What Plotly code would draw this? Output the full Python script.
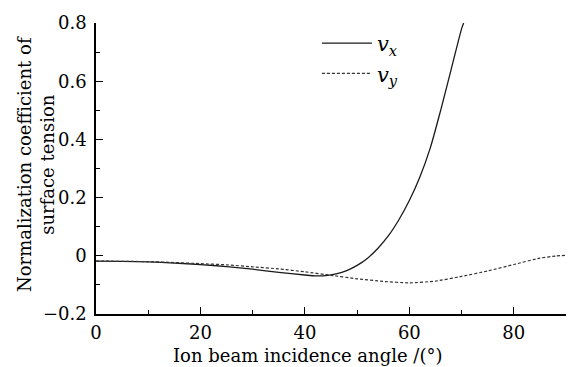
import plotly.graph_objects as go

# incidence angle (deg) and normalized coefficients
angle_vx = [0, 5, 10, 15, 20, 25, 30, 35, 40, 42, 44, 46, 48, 50, 52, 54, 56, 58, 60, 62, 64, 66, 68, 70, 70.4]
vx = [-0.018, -0.019, -0.021, -0.025, -0.030, -0.037, -0.046, -0.057, -0.066, -0.069, -0.068, -0.062,
      -0.051, -0.033, -0.008, 0.026, 0.069, 0.124, 0.190, 0.270, 0.370, 0.500, 0.640, 0.780, 0.800]

angle_vy = [0, 5, 10, 15, 20, 25, 30, 35, 40, 45, 50, 55, 60, 65, 70, 75, 80, 85, 88, 90]
vy = [-0.018, -0.019, -0.020, -0.023, -0.027, -0.031, -0.038, -0.045, -0.055, -0.067, -0.079,
      -0.088, -0.093, -0.087, -0.071, -0.052, -0.030, -0.008, -0.001, 0.002]

x_tickvals = [0, 20, 40, 60, 80]
x_ticktext = ["0", "20", "40", "60", "80"]
x_minor = [10, 30, 50, 70, 90]
y_tickvals = [-0.2, 0, 0.2, 0.4, 0.6, 0.8]
y_ticktext = ["\u22120.2", "0", "0.2", "0.4", "0.6", "0.8"]
y_minor = [-0.1, 0.1, 0.3, 0.5, 0.7]

x_title = "Ion beam incidence angle /(°)"
y_title = "Normalization coefficient of<br>surface tension"

FONT = "DejaVu Serif"

fig = go.Figure()
fig.add_trace(go.Scatter(x=angle_vx, y=vx, mode="lines", name="<i>v</i><sub><i>x</i></sub>",
                         line=dict(color="#1a1a1a", width=1.3, shape="spline", smoothing=0.7)))
fig.add_trace(go.Scatter(x=angle_vy, y=vy, mode="lines", name="<i>v</i><sub><i>y</i></sub>",
                         line=dict(color="#333333", width=1.2, dash="3px,2px", shape="spline", smoothing=0.5)))

axis_common = dict(
    showline=True, linecolor="black", linewidth=1.5, mirror=False,
    showgrid=False, zeroline=False,
    ticks="inside", ticklen=7, tickwidth=1.3, tickcolor="black",
    tickfont=dict(family=FONT, size=18, color="black"),
)

fig.update_xaxes(range=[0, 90], tickvals=x_tickvals, ticktext=x_ticktext, ticklabelstandoff=2,
                 minor=dict(ticks="inside", ticklen=4, tickwidth=1.2, tickcolor="black", tickvals=x_minor),
                 **axis_common)
fig.update_yaxes(range=[-0.2, 0.8], tickvals=y_tickvals, ticktext=y_ticktext, ticklabelstandoff=4,
                 minor=dict(ticks="inside", ticklen=4, tickwidth=1.2, tickcolor="black", tickvals=y_minor),
                 **axis_common)

fig.add_annotation(text=x_title, xref="paper", yref="paper", x=0.451, y=-0.142,
                   xanchor="center", yanchor="middle", showarrow=False,
                   font=dict(family=FONT, size=18, color="black"))
fig.add_annotation(text=y_title, xref="paper", yref="paper", x=-0.128, y=0.515,
                   xanchor="center", yanchor="middle", showarrow=False, textangle=-90,
                   font=dict(family=FONT, size=18, color="black"))

fig.update_layout(
    width=583, height=367,
    margin=dict(l=96, r=17, t=15, b=53),
    paper_bgcolor="white", plot_bgcolor="white",
    showlegend=True,
    legend=dict(x=0.47, y=1.0, xanchor="left", yanchor="top", bgcolor="rgba(0,0,0,0)",
                font=dict(family=FONT, size=21, color="black"), itemwidth=50, tracegroupgap=0),
)

fig.write_html("out.html")
